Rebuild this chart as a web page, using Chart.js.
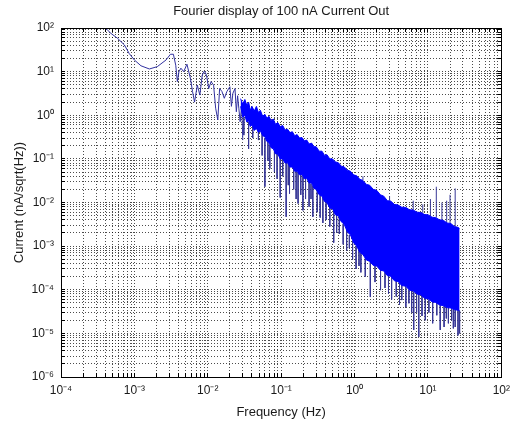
<!DOCTYPE html>
<html lang="en">
<head>
<meta charset="UTF-8">
<title>Fourier display of 100 nA Current Out</title>
<script src="https://cdn.jsdelivr.net/npm/chart.js"></script>
<style>
  html, body { margin: 0; padding: 0; background: #fff; }
  canvas { display: block; }
</style>
</head>
<body>
<canvas id="chart" width="516" height="427"></canvas>
<script>
// low frequency part, a single trace (Hz -> nA/sqrt(Hz))
const traceFreq = [3.8e-4, 4.3e-4, 4.8e-4, 5.9e-4, 7.3e-4, 8.5e-4, 1.0e-3, 1.23e-3, 1.6e-3, 2.05e-3,
  2.7e-3, 3.1e-3, 3.4e-3, 3.66e-3, 3.85e-3, 4.05e-3, 4.3e-3, 4.7e-3, 5.2e-3, 5.8e-3,
  6.2e-3, 6.6e-3, 7.2e-3, 7.8e-3, 8.4e-3, 9.0e-3, 9.6e-3, 1.03e-2, 1.11e-2, 1.2e-2,
  1.28e-2, 1.37e-2, 1.45e-2, 1.56e-2, 1.68e-2, 1.82e-2, 2.0e-2, 2.1e-2, 2.2e-2, 2.35e-2,
  2.45e-2, 2.55e-2, 2.65e-2, 2.76e-2, 2.9e-2, 3.0e-2];
const traceAmp = [105, 90, 75, 58, 41, 26, 18.5, 13.6, 11.5, 13,
  18.5, 25, 25, 14, 5.9, 10, 12, 10, 14.8, 7,
  3.5, 2.0, 4.9, 2.9, 8.3, 10.3, 8.3, 4.1, 5.9, 4.9,
  1.45, 0.78, 4.1, 3.5, 2.45, 3.5, 4.5, 1.6, 3.2, 4.1,
  1.2, 2.8, 1.45, 0.71, 1.7, 0.27];

// dense noise band above ~0.03 Hz: upper and lower edge
const bandFreq = [0.028, 0.030, 0.032, 0.034, 0.036, 0.038, 0.040, 0.043, 0.046, 0.049,
  0.052, 0.056, 0.060, 0.064, 0.068, 0.073, 0.078, 0.084, 0.090, 0.097,
  0.105, 0.113, 0.122, 0.132, 0.142, 0.153, 0.165, 0.178, 0.192, 0.207,
  0.223, 0.24, 0.26, 0.28, 0.30, 0.33, 0.36, 0.39, 0.42, 0.46,
  0.5, 0.55, 0.6, 0.66, 0.72, 0.8, 0.88, 0.97, 1.07, 1.18,
  1.3, 1.45, 1.6, 1.8, 2.0, 2.25, 2.5, 2.8, 3.1, 3.5,
  3.9, 4.4, 5.0, 5.6, 6.3, 7.1, 8.0, 9.0, 10.1, 11.4,
  12.8, 14.4, 16.2, 18.2, 20.5, 23, 25.7, 27];
const bandUpper = [2.4, 1.8, 2.3, 1.7, 2.0, 1.3, 1.6, 1.25, 1.6, 1.15,
  1.3, 0.95, 1.05, 0.85, 0.95, 0.75, 0.82, 0.62, 0.68, 0.55,
  0.58, 0.46, 0.48, 0.4, 0.42, 0.34, 0.36, 0.3, 0.31, 0.26,
  0.27, 0.22, 0.23, 0.19, 0.19, 0.15, 0.15, 0.12, 0.125, 0.1,
  0.1, 0.085, 0.082, 0.068, 0.066, 0.055, 0.052, 0.043, 0.041, 0.034,
  0.032, 0.026, 0.025, 0.02, 0.019, 0.015, 0.014, 0.011, 0.0108, 0.009,
  0.0088, 0.0078, 0.0077, 0.0068, 0.0067, 0.006, 0.0059, 0.0053, 0.0052, 0.0046,
  0.0045, 0.004, 0.0039, 0.0034, 0.0033, 0.0028, 0.0027, 0.0025];
const bandLower = [1.6, 0.9, 1.0, 0.7, 0.75, 0.55, 0.6, 0.45, 0.5, 0.4,
  0.44, 0.34, 0.32, 0.25, 0.24, 0.18, 0.17, 0.13, 0.13, 0.1,
  0.1, 0.08, 0.082, 0.065, 0.065, 0.052, 0.052, 0.043, 0.044, 0.035,
  0.036, 0.028, 0.028, 0.021, 0.02, 0.015, 0.014, 0.0105, 0.01, 0.0075,
  0.0072, 0.0052, 0.005, 0.0036, 0.0032, 0.0021, 0.0018, 0.0012, 0.001, 7.2e-4,
  6.4e-4, 4.8e-4, 4.5e-4, 3.6e-4, 3.5e-4, 2.8e-4, 2.7e-4, 2.1e-4, 2.05e-4, 1.6e-4,
  1.55e-4, 1.25e-4, 1.2e-4, 9.8e-5, 9.4e-5, 8.0e-5, 7.6e-5, 6.4e-5, 6.1e-5, 5.3e-5,
  5.1e-5, 4.5e-5, 4.3e-5, 3.9e-5, 3.8e-5, 3.5e-5, 3.4e-5, 3.3e-5];

// single spikes sticking out of the band
const spikeFreq = [0.031, 0.036, 0.041, 0.049, 0.055, 0.06, 0.066, 0.07, 0.081, 0.088,
  0.097, 0.105, 0.117, 0.125, 0.13, 0.148, 0.16, 0.17, 0.185, 0.198,
  0.215, 0.24, 0.255, 0.27, 0.31, 0.34, 0.37, 0.41, 0.46, 0.52,
  0.57, 0.62, 0.7, 0.78, 0.85, 0.94, 1.05, 1.15, 1.22, 1.4,
  1.64, 1.9, 2.26, 2.6, 2.9, 3.2, 3.7, 4.1, 4.4, 5.0,
  5.5, 6.0, 6.4, 7.0, 7.5, 8.3, 9.2, 10.3, 11.6, 13.2,
  14.7, 16.6, 17.8, 19, 21, 22.2, 23.5, 25.7, 27,
  1.3, 3.0, 6.3, 8.5, 10.8, 13, 15.5, 18, 20, 23.5];
const spikeFrom = [0.9, 0.7, 0.55, 0.45, 0.4, 0.3, 0.25, 0.21, 0.15, 0.13,
  0.11, 0.1, 0.085, 0.08, 0.075, 0.06, 0.052, 0.05, 0.045, 0.04,
  0.036, 0.03, 0.027, 0.024, 0.018, 0.015, 0.013, 0.011, 0.008, 0.0065,
  0.0055, 0.0045, 0.0032, 0.0024, 0.0018, 0.0013, 0.001, 8.0e-4, 7.0e-4, 5.2e-4,
  4.3e-4, 3.6e-4, 3.0e-4, 2.5e-4, 2.1e-4, 1.9e-4, 1.6e-4, 1.4e-4, 1.3e-4, 1.15e-4,
  1.0e-4, 9.5e-5, 9.0e-5, 8.5e-5, 8.0e-5, 7.0e-5, 6.3e-5, 5.8e-5, 5.4e-5, 5.0e-5,
  4.6e-5, 4.2e-5, 4.0e-5, 3.9e-5, 3.7e-5, 3.6e-5, 3.5e-5, 3.4e-5, 3.3e-5,
  0.032, 0.011, 0.0067, 0.0058, 0.005, 0.0045, 0.0039, 0.0035, 0.0033, 0.0028];
const spikeTo = [0.35, 0.17, 0.3, 0.27, 0.12, 0.023, 0.09, 0.06, 0.05, 0.035,
  0.013, 0.04, 0.0047, 0.025, 0.016, 0.02, 0.012, 0.0095, 0.015, 0.0066,
  0.012, 0.008, 0.012, 0.0047, 0.006, 0.0045, 0.0034, 0.004, 0.0028, 0.0012,
  0.002, 0.0019, 0.0011, 8.0e-4, 9.0e-4, 5.0e-4, 3.0e-4, 3.5e-4, 2.5e-4, 2.0e-4,
  6.8e-5, 1.5e-4, 9.8e-5, 1.1e-4, 8.0e-5, 6.0e-5, 7.0e-5, 4.5e-5, 5.8e-5, 4.0e-5,
  4.9e-5, 3.0e-5, 1.2e-5, 3.0e-5, 8.3e-6, 2.5e-5, 2.0e-5, 3.0e-5, 1.7e-5, 2.6e-5,
  1.2e-5, 1.4e-5, 2.2e-5, 1.7e-5, 2.0e-5, 1.3e-5, 1.4e-5, 9.0e-6, 1.0e-5,
  0.04, 0.014, 0.011, 0.009, 0.012, 0.023, 0.01, 0.011, 0.015, 0.021];

const xDecades = [1e-4, 1e-3, 1e-2, 1e-1, 1, 10, 100];
const xTickLabels = ['10⁻⁴', '10⁻³', '10⁻²', '10⁻¹', '10⁰', '10¹', '10²'];
const yDecades = [1e-6, 1e-5, 1e-4, 1e-3, 1e-2, 1e-1, 1, 10, 100];
const yTickLabels = ['10⁻⁶', '10⁻⁵', '10⁻⁴', '10⁻³', '10⁻²', '10⁻¹', '10⁰', '10¹', '10²'];

// 1..9 per decade, like matlab's log grid
function logTicks(decades) {
  const out = [];
  for (let i = 0; i < decades.length - 1; i++) {
    for (let k = 1; k < 10; k++) out.push(decades[i] * k);
  }
  out.push(decades[decades.length - 1]);
  return out;
}

function decadeLabel(value, decades, labels) {
  const i = decades.findIndex(d => Math.abs(d - value) / d < 1e-6);
  return i >= 0 ? labels[i] : '';
}

const tracePts = traceFreq.map((f, i) => ({x: f, y: traceAmp[i]}));
const upperPts = bandFreq.map((f, i) => ({x: f, y: bandUpper[i]}));
const lowerPts = bandFreq.map((f, i) => ({x: f, y: bandLower[i]}));
const spikePts = [];
spikeFreq.forEach((f, i) => {
  spikePts.push({x: f, y: spikeFrom[i]}, {x: f, y: spikeTo[i]}, {x: f, y: null});
});

// matlab style box with inward tick marks on all four sides
const axesBox = {
  id: 'axesBox',
  afterDraw(chart) {
    const {ctx, chartArea: a, scales: {x, y}} = chart;
    const al = p => Math.round(p - 0.5) + 0.5;
    ctx.save();
    ctx.strokeStyle = '#000';
    ctx.lineWidth = 1;
    ctx.beginPath();
    x.ticks.forEach(t => {
      const px = al(x.getPixelForValue(t.value));
      ctx.moveTo(px, a.bottom); ctx.lineTo(px, a.bottom - 4);
      ctx.moveTo(px, a.top); ctx.lineTo(px, a.top + 4);
    });
    y.ticks.forEach(t => {
      const py = al(y.getPixelForValue(t.value));
      ctx.moveTo(a.left, py); ctx.lineTo(a.left + 4, py);
      ctx.moveTo(a.right, py); ctx.lineTo(a.right - 4, py);
    });
    ctx.stroke();
    ctx.strokeRect(al(a.left), al(a.top), Math.round(a.right - a.left), Math.round(a.bottom - a.top));
    ctx.restore();
  }
};

Chart.defaults.font.family = '"Liberation Sans", Arial, sans-serif';
Chart.defaults.color = '#1a1a1a';

const gridStyle = { color: 'rgba(0,0,0,0.7)', lineWidth: 1, drawTicks: false };

new Chart(document.getElementById('chart'), {
  type: 'line',
  data: {
    datasets: [
      {
        data: upperPts,
        borderColor: '#0000ff',
        backgroundColor: '#0000ff',
        borderWidth: 1,
        fill: '+1'
      },
      {
        data: lowerPts,
        borderColor: '#0000ff',
        borderWidth: 1,
        fill: false
      },
      {
        data: spikePts,
        borderColor: 'rgb(55,55,150)',
        borderWidth: 1,
        fill: false,
        spanGaps: false
      },
      {
        data: tracePts,
        borderColor: 'rgb(50,50,160)',
        borderWidth: 1,
        fill: false
      }
    ]
  },
  options: {
    responsive: false,
    animation: false,
    elements: { point: { radius: 0 }, line: { tension: 0 } },
    layout: { padding: { left: 0, right: 11, top: 0, bottom: 0 } },
    plugins: {
      legend: { display: false },
      tooltip: { enabled: false },
      title: {
        display: true,
        fullSize: false,
        text: 'Fourier display of 100 nA Current Out',
        font: { size: 13, weight: 'normal' },
        color: '#1a1a1a',
        padding: { top: 4, bottom: 8.4 }
      }
    },
    scales: {
      x: {
        type: 'logarithmic',
        min: 1e-4,
        max: 100,
        afterBuildTicks: s => { s.ticks = logTicks(xDecades).map(v => ({value: v})); },
        afterFit: s => { s.height = 50; },
        ticks: {
          autoSkip: false,
          maxRotation: 0,
          minRotation: 0,
          padding: 6,
          font: { size: 12 },
          callback: v => decadeLabel(v, xDecades, xTickLabels)
        },
        grid: gridStyle,
        border: { display: false, dash: [1, 2] },
        title: {
          display: true,
          text: 'Frequency (Hz)',
          font: { size: 13 },
          padding: { top: 0, bottom: 7 }
        }
      },
      y: {
        type: 'logarithmic',
        min: 1e-6,
        max: 100,
        afterBuildTicks: s => { s.ticks = logTicks(yDecades).map(v => ({value: v})); },
        afterFit: s => { s.width = 61; },
        ticks: {
          autoSkip: false,
          padding: 7,
          font: { size: 12 },
          callback: v => decadeLabel(v, yDecades, yTickLabels)
        },
        grid: gridStyle,
        border: { display: false, dash: [1, 2] },
        title: {
          display: true,
          text: 'Current (nA/sqrt(Hz))',
          font: { size: 13 },
          padding: { top: 12, bottom: 0 }
        }
      }
    }
  },
  plugins: [axesBox]
});
</script>
</body>
</html>
